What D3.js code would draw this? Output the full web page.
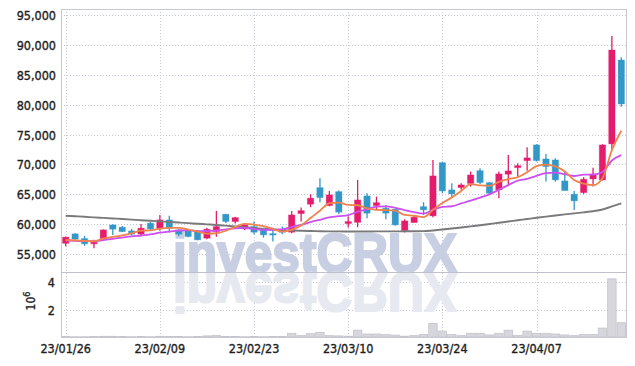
<!DOCTYPE html>
<html>
<head>
<meta charset="utf-8">
<script src="https://cdn.jsdelivr.net/npm/d3@7"></script>
<style>
  body { margin: 0; background: #fff; }
  svg text { font-family: "DejaVu Sans Condensed", "DejaVu Sans", sans-serif; }
  .lbl { fill: #1e1e1e; stroke: #1e1e1e; stroke-width: 0.35px; }
</style>
</head>
<body>
<div id="chart"></div>
<script>
// trading days (yy/mm/dd), 2023-01-26 .. 2023-04-20
const dates = [
  "23/01/26","23/01/27","23/01/30","23/01/31","23/02/01","23/02/02","23/02/03","23/02/06","23/02/07","23/02/08",
  "23/02/09","23/02/10","23/02/13","23/02/14","23/02/15","23/02/16","23/02/17","23/02/20","23/02/21","23/02/22",
  "23/02/23","23/02/24","23/02/27","23/02/28","23/03/02","23/03/03","23/03/06","23/03/07","23/03/08","23/03/09",
  "23/03/10","23/03/13","23/03/14","23/03/15","23/03/16","23/03/17","23/03/20","23/03/21","23/03/22","23/03/23",
  "23/03/24","23/03/27","23/03/28","23/03/29","23/03/30","23/03/31","23/04/03","23/04/04","23/04/05","23/04/06",
  "23/04/07","23/04/10","23/04/11","23/04/12","23/04/13","23/04/14","23/04/17","23/04/18","23/04/19","23/04/20"
];

const open = [
  56800,58380,57600,56710,57540,59880,59500,58880,58330,60170,
  59330,60720,59050,58930,58760,57660,58760,61670,60440,59210,
  59600,59050,58430,58900,58660,61770,63340,66120,63110,65450,
  60100,60300,64730,63110,62680,62510,58930,60270,62940,61390,
  70300,65740,66120,66800,68960,66960,65740,68360,69460,70630,
  73260,70920,70750,67240,65020,65280,67570,67410,73430,87470
];
const high = [
  57930,58500,58040,57380,59100,60000,59700,59200,60050,60400,
  61550,61390,59150,59000,59000,59400,62220,61700,61250,60000,
  60430,59100,59400,59600,62220,62780,65020,67690,65570,65620,
  61270,67410,65180,64620,63230,62600,60840,61550,63680,70750,
  70470,66860,66860,68800,69360,67000,68800,71590,70200,72870,
  73380,71750,71040,68800,65570,67860,69460,73380,91480,87920
];
const low = [
  56300,57400,56370,55990,57400,58200,58700,58100,58000,58900,
  58900,58600,58000,57800,57300,57500,57900,60200,60100,59000,
  58300,57760,57100,58300,58500,60430,62840,63680,63000,61670,
  59430,59500,61000,62390,60840,59720,58600,60270,61550,61170,
  65180,64510,65740,66290,66740,65000,64350,66570,67960,68960,
  70470,67120,67120,65620,62390,65070,66290,67300,72540,79660
];
const close = [
  57830,57490,56710,56990,59050,59160,58760,58330,59330,59210,
  60720,59330,58330,57930,57380,59160,59600,60440,61100,59880,
  58660,58210,58260,58700,61550,62270,64350,64450,64900,62010,
  60440,64060,61840,63610,61840,59880,60550,61170,62390,68080,
  65570,65070,66570,68240,66960,65180,68410,68910,69800,71090,
  70630,69630,67410,65620,63900,67520,68360,73260,89140,80110
];
// shares traded
const volume = [
  30000,20000,20000,30000,50000,50000,40000,20000,40000,20000,
  50000,40000,30000,20000,30000,80000,120000,40000,30000,20000,
  30000,20000,40000,30000,270000,120000,240000,340000,100000,80000,
  60000,500000,220000,220000,180000,140000,60000,100000,190000,990000,
  430000,190000,100000,270000,270000,150000,270000,500000,120000,430000,
  270000,270000,220000,150000,100000,190000,190000,650000,4240000,1040000
];
// moving averages as drawn (5, 10, 60 days)
const ma5 = [
  57350,57300,57200,57150,57610,57880,58130,58460,58930,58960,
  59270,59380,59380,59100,58740,58430,58480,58900,59540,60040,
  59940,59660,59220,58740,59080,59800,61030,62260,63500,63600,
  63230,63170,62650,62390,62360,62250,61540,61410,61170,62410,
  63550,64460,65540,66710,66480,66400,67070,67540,67850,68680,
  69730,69970,69670,68830,67400,66770,66520,67690,72390,75640
];
const ma10 = [
  57250,57200,57150,57150,57350,57550,57750,57950,58100,58290,
  58580,58760,58920,59020,58850,58850,58930,59140,59320,59390,
  59180,59070,59060,59140,59560,59870,60340,60740,61120,61340,
  61510,62100,62460,62950,62980,62740,62360,62030,61780,62390,
  62900,63000,63470,63940,64450,64980,65760,66540,67280,67580,
  68090,68540,68630,68360,68060,68290,68290,68720,70660,71560
];
const ma60 = [
  61420,61330,61240,61140,61050,60960,60870,60770,60670,60570,
  60470,60370,60270,60170,60070,59970,59870,59750,59630,59490,
  59350,59230,59120,59020,58950,58890,58850,58820,58800,58790,
  58780,58780,58780,58790,58800,58800,58810,58820,58830,58950,
  59100,59270,59450,59640,59830,60030,60230,60440,60650,60860,
  61070,61270,61460,61640,61800,61980,62170,62450,62970,63490
];
const priceTicks = [55000, 60000, 65000, 70000, 75000, 80000, 85000, 90000, 95000];
const volumeTicks = [2000000, 4000000];
const dateTicks = ["23/01/26", "23/02/09", "23/02/23", "23/03/10", "23/03/24", "23/04/07"];

const width = 635;
const height = 366;
const left = 61, right = 626;
const priceTop = 9, priceBottom = 272;
const volTop = 272, volBottom = 337;

const upColor = "#e31c6c";
const downColor = "#3398c8";
const gridColor = "#c6c8dc";
const frameColor = "#c8c8d4";

const svg = d3.select("#chart")
  .append("svg")
  .attr("width", width)
  .attr("height", height);

const x = d3.scaleBand()
  .domain(dates)
  .range([left, right])
  .paddingInner(0)
  .paddingOuter(0);
const xc = d => x(d) + x.bandwidth() / 2;

const y = d3.scaleLinear()
  .domain([52000, 96000])
  .range([priceBottom, priceTop]);

const yv = d3.scaleLinear()
  .domain([0, 4740000])
  .range([volBottom, volTop]);

// grid
const grid = svg.append("g")
  .attr("stroke", gridColor)
  .attr("stroke-width", 1)
  .attr("stroke-dasharray", "1,2");

grid.selectAll(".hp")
  .data(priceTicks)
  .enter()
  .append("line")
  .attr("x1", left).attr("x2", right)
  .attr("y1", d => Math.round(y(d)) + 0.5)
  .attr("y2", d => Math.round(y(d)) + 0.5);

grid.selectAll(".hv")
  .data(volumeTicks)
  .enter()
  .append("line")
  .attr("x1", left).attr("x2", right)
  .attr("y1", d => Math.round(yv(d)) + 0.5)
  .attr("y2", d => Math.round(yv(d)) + 0.5);

grid.selectAll(".vx")
  .data(dateTicks)
  .enter()
  .append("line")
  .attr("x1", d => Math.round(xc(d)) + 0.5)
  .attr("x2", d => Math.round(xc(d)) + 0.5)
  .attr("y1", priceTop)
  .attr("y2", volBottom);

// watermark with reflection
const markX = 173, markW = 284, markBase = 272;
svg.append("text")
  .attr("x", markX)
  .attr("y", markBase)
  .attr("textLength", markW)
  .attr("lengthAdjust", "spacingAndGlyphs")
  .style("font-family", "'Liberation Sans', Arial, sans-serif")
  .style("font-weight", "bold")
  .style("font-size", "56px")
  .attr("fill", "#c8cfe3")
  .attr("stroke", "#c8cfe3")
  .attr("stroke-width", 2.2)
  .text("investCRUX");

svg.append("text")
  .attr("x", markX)
  .attr("y", -markBase - 1)
  .attr("transform", "scale(1,-1)")
  .attr("textLength", markW)
  .attr("lengthAdjust", "spacingAndGlyphs")
  .style("font-family", "'Liberation Sans', Arial, sans-serif")
  .style("font-weight", "bold")
  .style("font-size", "56px")
  .attr("fill", "#e7e9f1")
  .attr("stroke", "#e7e9f1")
  .attr("stroke-width", 2.2)
  .text("investCRUX");

// volume bars
svg.append("g")
  .selectAll("rect")
  .data(dates)
  .enter()
  .append("rect")
  .attr("x", d => x(d) + 0.5)
  .attr("width", x.bandwidth() - 1)
  .attr("y", (d, i) => yv(volume[i]))
  .attr("height", (d, i) => volBottom - yv(volume[i]))
  .attr("fill", "#d6d6dc")
  .attr("stroke", "#c4c4cc")
  .attr("stroke-width", 0.8);

// frame
svg.append("rect")
  .attr("x", left + 0.5).attr("y", priceTop + 0.5)
  .attr("width", right - left).attr("height", volBottom - priceTop)
  .attr("fill", "none")
  .attr("stroke", frameColor);
svg.append("line")
  .attr("x1", left).attr("x2", right)
  .attr("y1", volTop + 0.5).attr("y2", volTop + 0.5)
  .attr("stroke", "#bfc0cc");

// candles
const candles = svg.append("g")
  .selectAll("g")
  .data(dates)
  .enter()
  .append("g")
  .attr("fill", (d, i) => close[i] >= open[i] ? upColor : downColor)
  .attr("stroke", (d, i) => close[i] >= open[i] ? upColor : downColor);

candles.append("line")
  .attr("x1", d => xc(d)).attr("x2", d => xc(d))
  .attr("y1", (d, i) => y(high[i]))
  .attr("y2", (d, i) => y(low[i]))
  .attr("stroke-width", 1.3);

const bodyW = 6.4;
candles.append("rect")
  .attr("x", d => xc(d) - bodyW / 2)
  .attr("width", bodyW)
  .attr("y", (d, i) => y(Math.max(open[i], close[i])))
  .attr("height", (d, i) => Math.max(1.5, Math.abs(y(open[i]) - y(close[i]))))
  .attr("stroke-opacity", 0.3)
  .attr("stroke-width", 1);

// moving averages
const line = arr => d3.line()
  .x(d => xc(d))
  .y((d, i) => y(arr[i]))
  .curve(d3.curveMonotoneX)(dates);

svg.append("path").attr("d", line(ma60))
  .attr("fill", "none").attr("stroke", "#7a7a7c").attr("stroke-width", 1.9);
svg.append("path").attr("d", line(ma10))
  .attr("fill", "none").attr("stroke", "#cc4ff0").attr("stroke-width", 1.8);
svg.append("path").attr("d", line(ma5))
  .attr("fill", "none").attr("stroke", "#f0834c").attr("stroke-width", 1.8);

// axes labels
const fmt = d3.format(",");
svg.append("g")
  .selectAll("text")
  .data(priceTicks)
  .enter()
  .append("text")
  .attr("class", "lbl")
  .attr("x", 56)
  .attr("y", d => y(d) + 5)
  .attr("text-anchor", "end")
  .attr("font-size", 12.5)
  .text(d => fmt(d));

svg.append("g")
  .selectAll("text")
  .data(volumeTicks)
  .enter()
  .append("text")
  .attr("class", "lbl")
  .attr("x", 55)
  .attr("y", d => yv(d) + 5)
  .attr("text-anchor", "end")
  .attr("font-size", 12.5)
  .text(d => d / 1e6);

const unit = svg.append("text")
  .attr("class", "lbl")
  .attr("transform", "translate(35,301) rotate(-90)")
  .attr("text-anchor", "middle")
  .attr("font-size", 12);
unit.append("tspan").text("10");
unit.append("tspan").attr("dy", -5).attr("font-size", 9).text("6");

svg.append("g")
  .selectAll("text")
  .data(dateTicks)
  .enter()
  .append("text")
  .attr("class", "lbl")
  .attr("x", d => xc(d))
  .attr("y", 353)
  .attr("text-anchor", "middle")
  .attr("font-size", 12.5)
  .text(d => d);
</script>
</body>
</html>
